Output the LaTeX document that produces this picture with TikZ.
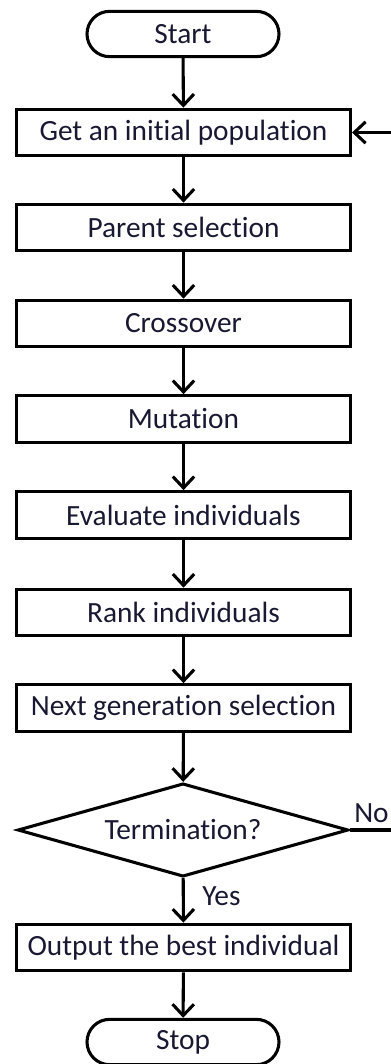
\documentclass[tikz,border=0pt]{standalone}
\usepackage{fontspec}
\setmainfont{Carlito}[Ligatures=NoCommon]
\usetikzlibrary{arrows.meta,shapes.geometric}
\definecolor{ink}{RGB}{24,24,50}
\begin{document}
\begin{tikzpicture}[x=0.75pt,y=-0.75pt,
  lbl/.style={font=\fontsize{22}{24}\selectfont, text=ink, inner sep=0pt},
  stepbox/.style={lbl, draw=black, line width=2.3pt, minimum width=250.5pt, minimum height=35pt},
  term/.style={lbl, draw=black, line width=2.3pt, minimum width=144pt, minimum height=34pt, rounded corners=17pt},
  decide/.style={lbl, draw=black, line width=2.3pt, shape=diamond, aspect=3.5, minimum width=248pt, minimum height=70pt},
  conn/.style={draw=black, line width=2.3pt, -{Straight Barb[length=8.5pt,width=16pt]}},
  plain/.style={draw=black, line width=2.3pt}]
  \useasboundingbox (0,0) rectangle (390,1064);

  % main sequence of steps
  \node[term]    (start) at (183,34)    {Start};
  \node[stepbox] (init)  at (183.5,132.5) {Get an initial population};
  \node[stepbox] (par)   at (183.5,227.5) {Parent selection};
  \node[stepbox] (cross) at (183.5,323.5) {Crossover};
  \node[stepbox] (mut)   at (183.5,419)   {Mutation};
  \node[stepbox] (eval)  at (183.5,515)   {Evaluate individuals};
  \node[stepbox] (rank)  at (183.5,612.5) {Rank individuals};
  \node[stepbox] (next)  at (183.5,708)   {Next generation selection};
  \node[decide]  (dec)   at (183,830)     {Termination?};
  \node[stepbox] (out)   at (183.5,947.5) {Output the best individual};
  \node[term]    (stop)  at (183,1042)  {Stop};

  % forward flow
  \draw[conn] (start) -- (init);
  \draw[conn] (init) -- (par);
  \draw[conn] (par) -- (cross);
  \draw[conn] (cross) -- (mut);
  \draw[conn] (mut) -- (eval);
  \draw[conn] (eval) -- (rank);
  \draw[conn] (rank) -- (next);
  \draw[conn] (next) -- (dec);
  \draw[conn] (dec) -- (out);
  \draw[conn] (out) -- (stop);

  % loop back when not terminated
  \coordinate (noEnd)  at (392,830);
  \coordinate (backIn) at (392,132.5);
  \draw[plain] (dec.east) -- (noEnd);
  \draw[conn] (backIn) -- (init.east);

  % branch labels
  \node[lbl, anchor=base west] (nolab)  at (354,822) {No};
  \node[lbl, anchor=base west] (yeslab) at (202,905) {Yes};
\end{tikzpicture}
\end{document}
